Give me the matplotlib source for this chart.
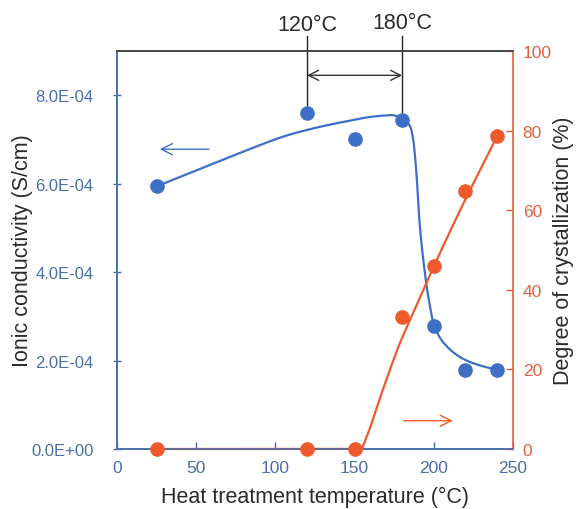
import numpy as np
import matplotlib
matplotlib.use("Agg")
import matplotlib.pyplot as plt
from matplotlib.ticker import FuncFormatter

plt.rcParams['font.family'] = ['Liberation Sans', 'DejaVu Sans']

# Measured samples
temps = [25, 120, 150, 180, 200, 220, 240]
conductivity = [5.94e-4, 7.59e-4, 7.00e-4, 7.43e-4, 2.78e-4, 1.79e-4, 1.79e-4]
crystallization = [0, 0, 0, 33.2, 46.0, 64.8, 78.6]

# Hand-drawn guide curves (knots)
cond_trend_t = [25, 50, 78, 110, 142, 165, 174, 180, 185, 187, 189, 191, 194.3, 197.5, 200, 206, 219, 231, 240]
cond_trend_v = [5.94e-4, 6.30e-4, 6.70e-4, 7.12e-4, 7.39e-4, 7.53e-4, 7.55e-4, 7.45e-4, 7.30e-4, 7.00e-4,
                6.25e-4, 5.13e-4, 4.00e-4, 3.24e-4, 2.82e-4, 2.41e-4, 2.03e-4, 1.87e-4, 1.79e-4]
cryst_trend_t = [25, 150, 154, 157, 168, 178, 189, 199, 217, 240]
cryst_trend_v = [0, 0, 0, 2.5, 15.1, 26.0, 36.0, 45.0, 60.3, 78.6]

x_ticks = [0, 50, 100, 150, 200, 250]
left_ticks = [0, 2e-4, 4e-4, 6e-4, 8e-4]
right_ticks = [0, 20, 40, 60, 80, 100]
window_lo, window_hi = 120, 180

BLUE = '#3d6fc6'
BLUE_TXT = '#4a6ea8'
ORANGE = '#ee5a2c'
ORANGE_TXT = '#e2613c'
DARK = '#2b2b2b'


def pchip(x, y, xs):
    """Monotone piecewise cubic Hermite interpolation."""
    x = np.asarray(x, float)
    y = np.asarray(y, float)
    h = np.diff(x)
    d = np.diff(y) / h
    n = len(x)
    m = np.zeros(n)
    for k in range(1, n - 1):
        if d[k - 1] * d[k] <= 0:
            m[k] = 0.0
        else:
            w1 = 2 * h[k] + h[k - 1]
            w2 = h[k] + 2 * h[k - 1]
            m[k] = (w1 + w2) / (w1 / d[k - 1] + w2 / d[k])
    m[0] = d[0]
    m[-1] = d[-1]
    idx = np.clip(np.searchsorted(x, xs) - 1, 0, n - 2)
    t = (xs - x[idx]) / h[idx]
    h00 = 2 * t**3 - 3 * t**2 + 1
    h10 = t**3 - 2 * t**2 + t
    h01 = -2 * t**3 + 3 * t**2
    h11 = t**3 - t**2
    return h00 * y[idx] + h10 * h[idx] * m[idx] + h01 * y[idx + 1] + h11 * h[idx] * m[idx + 1]


fig = plt.figure(figsize=(5.77, 5.10), dpi=100)
ax = fig.add_axes([117 / 577, 1 - 450 / 510, (513 - 117) / 577, (450 - 52) / 510])
ax2 = ax.twinx()

xs_c = np.linspace(cond_trend_t[0], cond_trend_t[-1], 600)
ax.plot(xs_c, pchip(cond_trend_t, cond_trend_v, xs_c), color=BLUE, lw=1.6, zorder=2)
ax.plot(temps, conductivity, 'o', color=BLUE, ms=9.5, zorder=3, clip_on=False)

xs_o = np.linspace(cryst_trend_t[0], cryst_trend_t[-1], 600)
ax2.plot(xs_o, pchip(cryst_trend_t, cryst_trend_v, xs_o), color=ORANGE, lw=1.6, zorder=2, clip_on=False)
ax2.plot(temps, crystallization, 'o', color=ORANGE, ms=9.5, zorder=3, clip_on=False)

ax.set_xlim(0, 250)
ax.set_ylim(0, 9e-4)
ax2.set_ylim(0, 100)

ax.set_xticks(x_ticks)
ax.set_yticks(left_ticks)
ax2.set_yticks(right_ticks)
ax.yaxis.set_major_formatter(FuncFormatter(lambda v, p: '{:.1E}'.format(v)))

ax.tick_params(axis='x', direction='in', length=5, width=1, color=BLUE_TXT,
               labelcolor=BLUE_TXT, labelsize=12.5, pad=8)
ax.tick_params(axis='y', direction='inout', length=6, width=1, color=BLUE_TXT,
               labelcolor=BLUE_TXT, labelsize=12, pad=14)
ax2.tick_params(axis='y', direction='in', length=5, width=1, color=ORANGE_TXT,
                labelcolor=ORANGE_TXT, labelsize=12.5, pad=7)

for a in (ax, ax2):
    a.spines['left'].set_color(BLUE_TXT)
    a.spines['bottom'].set_color(BLUE_TXT)
    a.spines['right'].set_color(ORANGE_TXT)
    a.spines['top'].set_color('#444444')
    for s in a.spines.values():
        s.set_linewidth(1.2)
ax.spines['right'].set_visible(False)

ax.set_xlabel('Heat treatment temperature (°C)', fontsize=15.5, color=DARK)
ax.set_ylabel('Ionic conductivity (S/cm)', fontsize=15.5, color=DARK)
ax2.set_ylabel('Degree of crystallization (%)', fontsize=15.5, color=DARK)
ax.xaxis.set_label_coords(0.5, -0.093)
ax.yaxis.set_label_coords(-0.212, 0.5)
ax2.yaxis.set_label_coords(1.1, 0.5)

# Heat-treatment window markers above the plot
i_lo = temps.index(window_lo)
i_hi = temps.index(window_hi)
top_y = 9.33e-4
ax.plot([window_lo, window_lo], [conductivity[i_lo] + 0.18e-4, top_y], color='#222222', lw=1, clip_on=False, zorder=4)
ax.plot([window_hi, window_hi], [conductivity[i_hi] + 0.18e-4, top_y], color='#222222', lw=1, clip_on=False, zorder=4)
ax.annotate('', xy=(window_lo, 8.45e-4), xytext=(window_hi, 8.45e-4),
            arrowprops=dict(arrowstyle='<->', color='#333333', lw=1, mutation_scale=18,
                            shrinkA=0, shrinkB=0))
ax.text(window_lo, 9.6e-4, '{}°C'.format(window_lo), ha='center', va='center', fontsize=15.5, color=DARK)
ax.text(window_hi, 9.64e-4, '{}°C'.format(window_hi), ha='center', va='center', fontsize=15.5, color=DARK)

# Direction arrows pointing to each axis
ax.annotate('', xy=(27, 6.78e-4), xytext=(58, 6.78e-4),
            arrowprops=dict(arrowstyle='->', color=BLUE, lw=1, mutation_scale=20,
                            shrinkA=0, shrinkB=0))
ax2.annotate('', xy=(212, 7.1), xytext=(181, 7.1),
             arrowprops=dict(arrowstyle='->', color=ORANGE, lw=1, mutation_scale=20,
                             shrinkA=0, shrinkB=0))

fig.savefig('out.png', dpi=100)
